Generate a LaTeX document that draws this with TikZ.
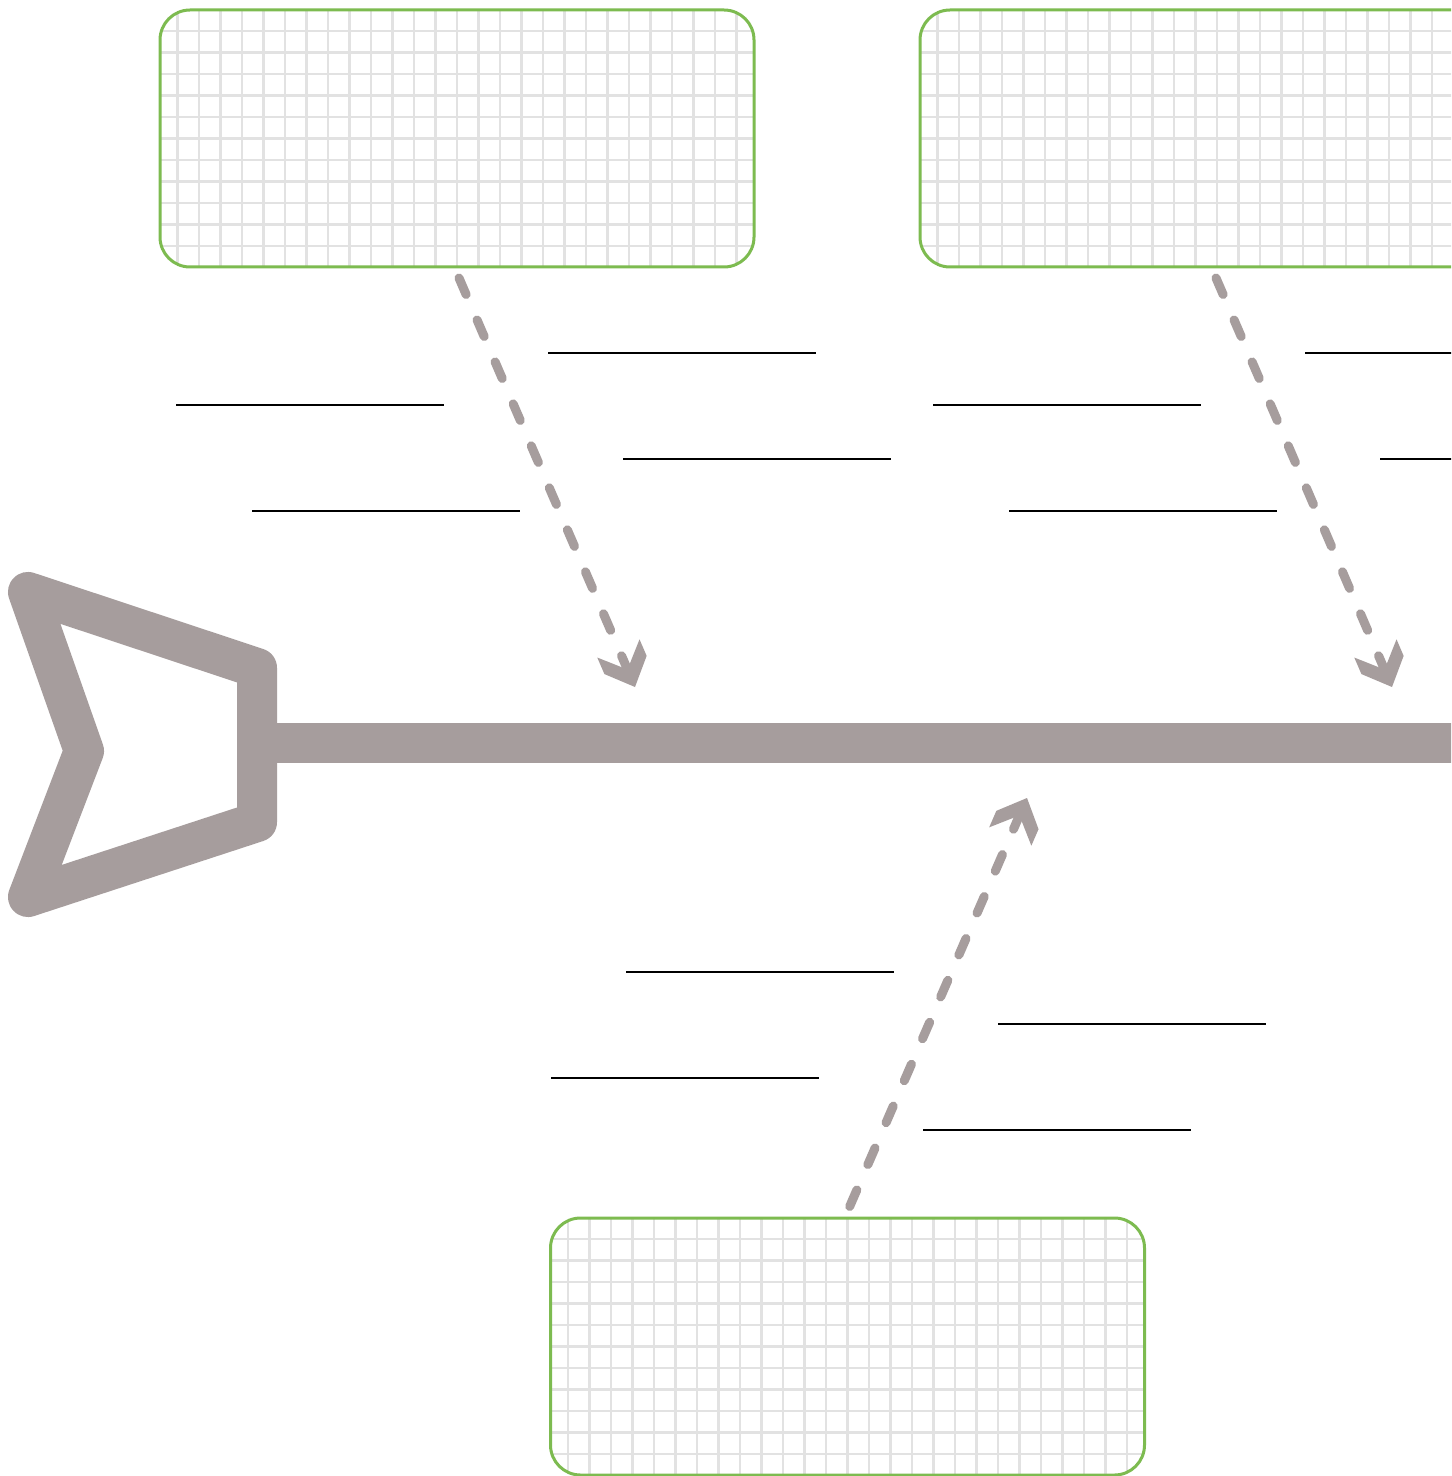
\documentclass[tikz,border=0pt]{standalone}
\usetikzlibrary{calc}
\definecolor{bone}{HTML}{A69D9D}
\definecolor{boxgreen}{HTML}{7DBB50}
\definecolor{gridc}{HTML}{E2E2E2}
\tikzset{
  catbox/.style={draw=boxgreen, line width=1.5pt, rounded corners=15pt,
    minimum width=297pt, minimum height=128.5pt, inner sep=0pt, fill=white,
    path picture={\draw[gridc, line width=1.4pt]
      (path picture bounding box.south west) grid[step=10.75pt]
      (path picture bounding box.north east);}},
  dashline/.style={bone, line width=4.5pt, line cap=round,
    dash pattern=on 9pt off 13.85pt},
  blank/.style={black, line width=1pt},
  bonestroke/.style={bone, line width=20pt, line join=round},
  chev/.pic={\fill[bone] (0,0) -- (-12pt,11.5pt) -- (-21pt,11.5pt) -- (-9.5pt,0pt)
      -- (-21pt,-11.5pt) -- (-12pt,-11.5pt) -- cycle;},
}
\begin{document}
\begin{tikzpicture}[x=0.5pt,y=-0.5pt]
\clip (0,0) rectangle (1451,1476);
\fill[white] (0,0) rectangle (1451,1476);

% boxes
\node[catbox] (box1) at (457,138.5) {};
\node[catbox] (box2) at (1217,138.5) {};
\node[catbox] (box3) at (847.5,1346.5) {};

% head
\draw[bonestroke] (28,592) -- (257,668) -- (257,822) -- (28,897) -- (84,751) -- cycle;
\coordinate (headend) at (257,743);
\coordinate (tail) at (1460,743);
\draw[bone, line width=20pt] (headend) -- (tail);

% arrows
\coordinate (a1s) at (459,278);
\coordinate (a1e) at (635,687);
\coordinate (a2s) at (1216,278);
\coordinate (a2e) at (1392,687);
\coordinate (a3s) at (849,1208);
\coordinate (a3e) at (1027,798);
\draw[dashline] ($(a1e)!8pt!(a1s)$) -- (a1s);
\draw[dashline] ($(a2e)!8pt!(a2s)$) -- (a2s);
\draw[dashline] ($(a3e)!8pt!(a3s)$) -- (a3s);
\pic[rotate=-66.7] at (a1e) {chev};
\pic[rotate=-66.7] at (a2e) {chev};
\pic[rotate=66.5] at (a3e) {chev};

% blank lines
\draw[blank] (548,353) -- (816,353);
\draw[blank] (176,405) -- (444,405);
\draw[blank] (623,459) -- (891,459);
\draw[blank] (252,511) -- (520,511);
\draw[blank] (1305,353) -- (1460,353);
\draw[blank] (933,405) -- (1201,405);
\draw[blank] (1380,459) -- (1460,459);
\draw[blank] (1009,511) -- (1277,511);
\draw[blank] (626,972) -- (894,972);
\draw[blank] (998,1024) -- (1266,1024);
\draw[blank] (551,1078) -- (819,1078);
\draw[blank] (923,1130) -- (1191,1130);
\end{tikzpicture}
\end{document}
